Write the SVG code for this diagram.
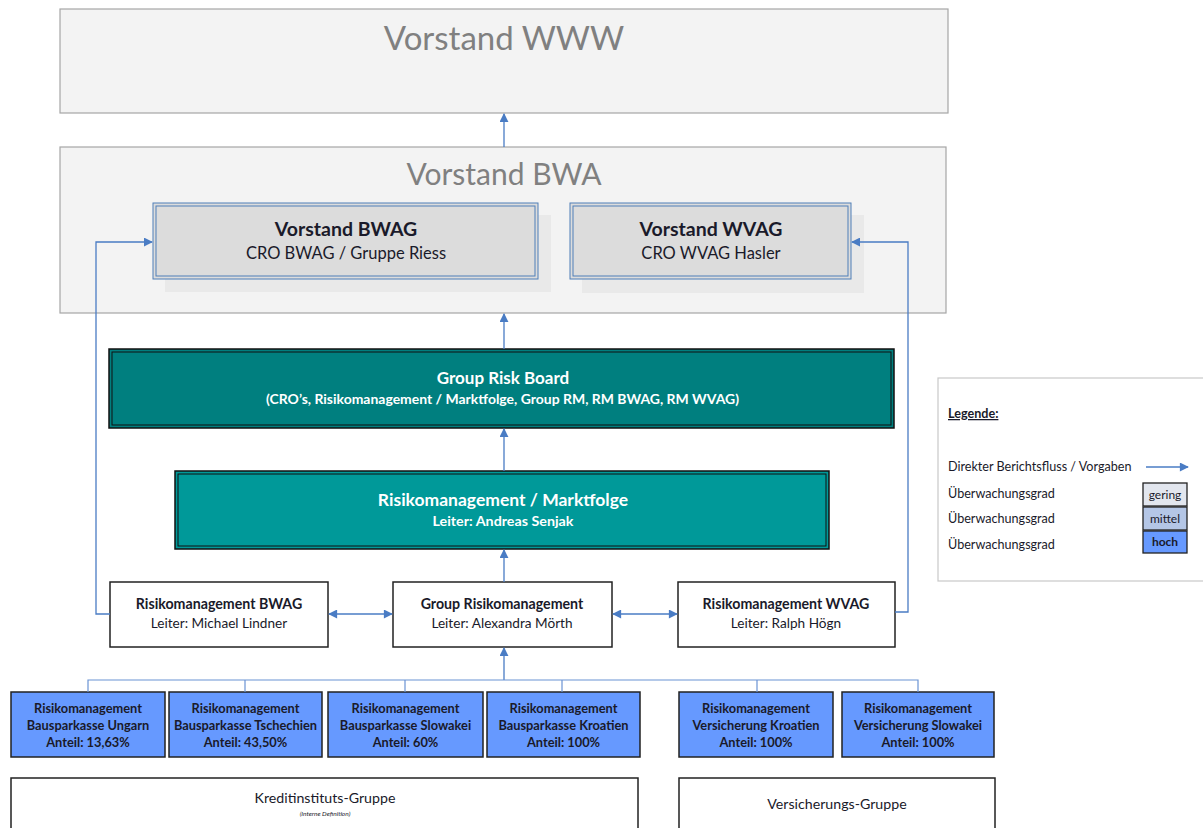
<svg xmlns="http://www.w3.org/2000/svg" width="1203" height="828" viewBox="0 0 1203 828">
<defs>
<marker id="ah" viewBox="0 0 10 10" refX="9" refY="5" markerWidth="9" markerHeight="9" markerUnits="userSpaceOnUse" orient="auto-start-reverse"><path d="M0,0 L10,5 L0,10 z" fill="#4a7cc4"/></marker>
<marker id="ahs" viewBox="0 0 10 10" refX="9" refY="5" markerWidth="13" markerHeight="9" markerUnits="userSpaceOnUse" orient="auto-start-reverse"><path d="M0,0 L10,5 L0,10 z" fill="#4a7cc4"/></marker>
</defs>
<style>
text{font-family:Lato,"Liberation Sans",sans-serif;text-anchor:middle;fill:#1a1a2a}
.big{font-weight:400;fill:#808080}
.outer{fill:#f3f3f3;stroke:#a6a6a6;stroke-width:1.2}
.vb{fill:#dcdcdc;stroke:#4f7fb8;stroke-width:1}
.sh{fill:#e9e9e9}
.wb{fill:#ffffff;stroke:#222;stroke-width:1.5}
.bb{fill:#6699ff;stroke:#222;stroke-width:1.5}
.bt{font-size:12.8px;font-weight:700}
.conn{fill:none;stroke:#4a7cc4;stroke-width:1.3}
.bus{fill:none;stroke:#6a93d4;stroke-width:1.2}
.lg{font-size:12.6px;text-anchor:start}
</style>
<rect width="1203" height="828" fill="#ffffff"/>

<g id="vorstand-www">
<rect class="outer" x="60" y="9" width="888" height="104"/>
<text class="big" x="504" y="50" style="font-size:33px">Vorstand WWW</text>
</g>

<g id="vorstand-bwa">
<rect class="outer" x="60" y="147" width="886" height="166"/>
<text class="big" x="504" y="185" style="font-size:30px">Vorstand BWA</text>
</g>

<g id="vorstand-bwag">
<rect class="sh" x="165" y="215" width="386" height="77"/>
<rect class="vb" x="153" y="203" width="385" height="76"/>
<rect x="156" y="206" width="379" height="70" fill="none" stroke="#4f7fb8" stroke-width="1"/>
<text x="346" y="236" style="font-size:19.5px;font-weight:700">Vorstand BWAG</text>
<text x="346" y="259" style="font-size:16.5px">CRO BWAG / Gruppe Riess</text>
</g>

<g id="vorstand-wvag">
<rect class="sh" x="582" y="215" width="282" height="78"/>
<rect class="vb" x="570" y="203" width="281" height="76"/>
<rect x="573" y="206" width="275" height="70" fill="none" stroke="#4f7fb8" stroke-width="1"/>
<text x="711" y="236" style="font-size:19.5px;font-weight:700">Vorstand WVAG</text>
<text x="711" y="259" style="font-size:16.5px">CRO WVAG Hasler</text>
</g>

<g id="group-risk-board">
<rect x="109" y="349" width="785" height="79" fill="#007f7f" stroke="#111" stroke-width="1.5"/>
<rect x="112" y="352" width="779" height="73" fill="none" stroke="#111" stroke-width="1"/>
<text x="503" y="384" style="font-size:17px;font-weight:700;fill:#fff">Group Risk Board</text>
<text x="502.5" y="404" textLength="473" lengthAdjust="spacingAndGlyphs" style="font-size:13px;font-weight:700;fill:#fff">(CRO’s, Risikomanagement / Marktfolge, Group RM, RM BWAG, RM WVAG)</text>
</g>

<g id="rm-marktfolge">
<rect x="175" y="471" width="654" height="78" fill="#009999" stroke="#111" stroke-width="1.5"/>
<rect x="178" y="474" width="648" height="72" fill="none" stroke="#111" stroke-width="1"/>
<text x="503" y="506" style="font-size:17.5px;font-weight:700;fill:#fff">Risikomanagement / Marktfolge</text>
<text x="503" y="526" textLength="141" lengthAdjust="spacingAndGlyphs" style="font-size:13.5px;font-weight:700;fill:#fff">Leiter: Andreas Senjak</text>
</g>

<g id="rm-bwag">
<rect class="wb" x="110" y="582" width="218" height="65"/>
<text x="219" y="609" style="font-size:14.2px;font-weight:700">Risikomanagement BWAG</text>
<text x="219" y="628" style="font-size:13.6px">Leiter: Michael Lindner</text>
</g>

<g id="group-rm">
<rect class="wb" x="393" y="582" width="219" height="65"/>
<text x="502" y="609" style="font-size:14.2px;font-weight:700">Group Risikomanagement</text>
<text x="502" y="628" style="font-size:13.6px">Leiter: Alexandra Mörth</text>
</g>

<g id="rm-wvag">
<rect class="wb" x="678" y="582" width="217" height="65"/>
<text x="786" y="609" style="font-size:14.2px;font-weight:700">Risikomanagement WVAG</text>
<text x="786" y="628" style="font-size:13.6px">Leiter: Ralph Högn</text>
</g>

<g id="bsk-ungarn">
<rect class="bb" x="11" y="692" width="154" height="65"/>
<text class="bt" x="88" y="713">Risikomanagement</text>
<text class="bt" x="88" y="730">Bausparkasse Ungarn</text>
<text class="bt" x="88" y="747">Anteil: 13,63%</text>
</g>
<g id="bsk-tschechien">
<rect class="bb" x="169" y="692" width="153" height="65"/>
<text class="bt" x="245.5" y="713">Risikomanagement</text>
<text class="bt" x="245.5" y="730">Bausparkasse Tschechien</text>
<text class="bt" x="245.5" y="747">Anteil: 43,50%</text>
</g>
<g id="bsk-slowakei">
<rect class="bb" x="328" y="692" width="155" height="65"/>
<text class="bt" x="405.5" y="713">Risikomanagement</text>
<text class="bt" x="405.5" y="730">Bausparkasse Slowakei</text>
<text class="bt" x="405.5" y="747">Anteil: 60%</text>
</g>
<g id="bsk-kroatien">
<rect class="bb" x="487" y="692" width="153" height="65"/>
<text class="bt" x="563.5" y="713">Risikomanagement</text>
<text class="bt" x="563.5" y="730">Bausparkasse Kroatien</text>
<text class="bt" x="563.5" y="747">Anteil: 100%</text>
</g>
<g id="vers-kroatien">
<rect class="bb" x="679" y="692" width="154" height="65"/>
<text class="bt" x="756" y="713">Risikomanagement</text>
<text class="bt" x="756" y="730">Versicherung Kroatien</text>
<text class="bt" x="756" y="747">Anteil: 100%</text>
</g>
<g id="vers-slowakei">
<rect class="bb" x="842" y="692" width="152" height="65"/>
<text class="bt" x="918" y="713">Risikomanagement</text>
<text class="bt" x="918" y="730">Versicherung Slowakei</text>
<text class="bt" x="918" y="747">Anteil: 100%</text>
</g>

<g id="kreditinstituts-gruppe">
<rect x="11" y="778" width="627" height="60" fill="#fff" stroke="#222" stroke-width="1.5"/>
<text x="325" y="803" style="font-size:14.2px">Kreditinstituts-Gruppe</text>
<text x="325" y="816" style="font-size:6.5px;font-style:italic">(Interne Definition)</text>
</g>

<g id="versicherungs-gruppe">
<rect x="679" y="778" width="316" height="60" fill="#fff" stroke="#222" stroke-width="1.5"/>
<text x="837" y="809" style="font-size:14.2px">Versicherungs-Gruppe</text>
</g>

<g id="legende">
<rect x="938" y="378" width="275" height="203" fill="#fff" stroke="#c8c8c8" stroke-width="1.2"/>
<text class="lg" x="948" y="418" style="font-weight:700;text-decoration:underline">Legende:</text>
<text class="lg" x="948" y="471">Direkter Berichtsfluss / Vorgaben</text>
<line class="conn" x1="1146" y1="467" x2="1188" y2="467" marker-end="url(#ahs)"/>
<text class="lg" x="948" y="498">Überwachungsgrad</text>
<text class="lg" x="948" y="523">Überwachungsgrad</text>
<text class="lg" x="948" y="549">Überwachungsgrad</text>
<rect x="1143" y="483" width="44" height="23" fill="#e2e6ee" stroke="#222" stroke-width="1.3"/>
<rect x="1143" y="507" width="44" height="23" fill="#b4c6e6" stroke="#222" stroke-width="1.3"/>
<rect x="1143" y="531" width="44" height="22" fill="#6699ff" stroke="#222" stroke-width="1.3"/>
<text x="1165" y="499" style="font-size:12px">gering</text>
<text x="1165" y="523" style="font-size:12px">mittel</text>
<text x="1165" y="546" style="font-size:12px;font-weight:700">hoch</text>
</g>

<g id="connectors">
<line class="conn" x1="504" y1="147" x2="504" y2="114" marker-end="url(#ah)"/>
<line class="conn" x1="504" y1="349" x2="504" y2="314" marker-end="url(#ah)"/>
<line class="conn" x1="504" y1="471" x2="504" y2="429" marker-end="url(#ah)"/>
<line class="conn" x1="504" y1="582" x2="504" y2="550" marker-end="url(#ah)"/>
<polyline class="conn" points="110,614 96,614 96,242 152,242" marker-end="url(#ah)"/>
<polyline class="conn" points="895,612 908,612 908,242 852,242" marker-end="url(#ah)"/>
<line class="conn" x1="329" y1="614" x2="392" y2="614" marker-start="url(#ahs)" marker-end="url(#ahs)"/>
<line class="conn" x1="613" y1="614" x2="677" y2="614" marker-start="url(#ahs)" marker-end="url(#ahs)"/>
<line class="conn" x1="504" y1="680" x2="504" y2="648" marker-end="url(#ah)"/>
<polyline class="bus" points="88,692 88,680 918,680 918,692"/>
<line class="bus" x1="245" y1="680" x2="245" y2="692"/>
<line class="bus" x1="405" y1="680" x2="405" y2="692"/>
<line class="bus" x1="562" y1="680" x2="562" y2="692"/>
<line class="bus" x1="757" y1="680" x2="757" y2="692"/>
</g>
</svg>
